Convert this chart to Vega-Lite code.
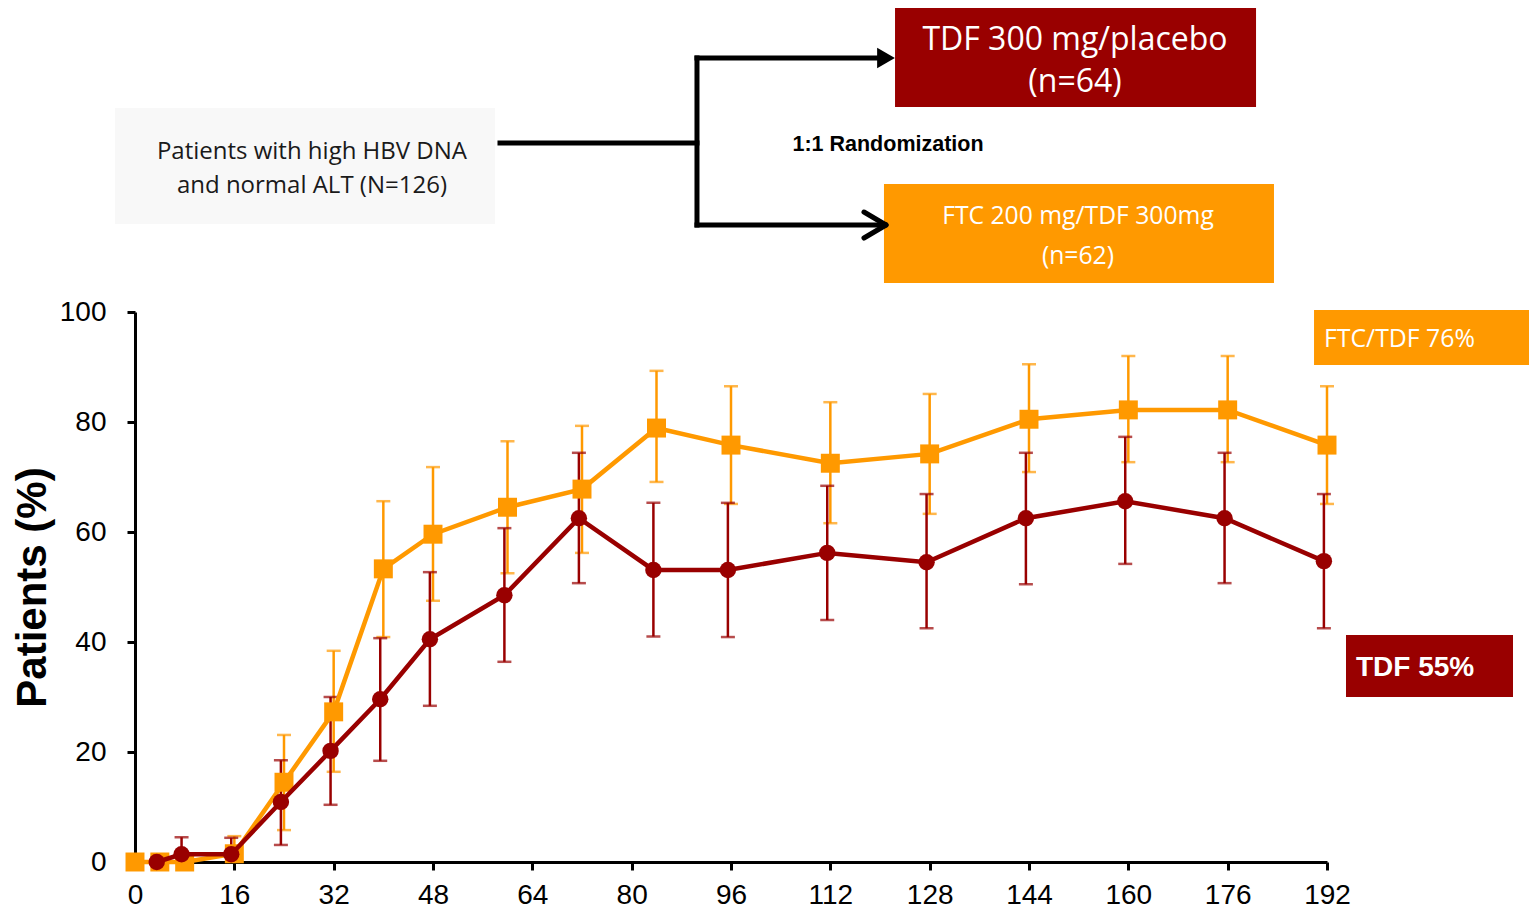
{
  "$schema": "https://vega.github.io/schema/vega-lite/v6.json",
  "width": 1192,
  "height": 550,
  "autosize": {"type": "none"},
  "padding": {"left": 135, "top": 312, "right": 205, "bottom": 47},
  "background": "white",
  "config": {"view": {"stroke": null}},
  "datasets": {
    "ftc": [
      {"week": 0, "pct": 0},
      {"week": 4, "pct": 0},
      {"week": 8, "pct": 0},
      {"week": 16, "pct": 1.5, "lo": 1.5, "hi": 4.7},
      {"week": 24, "pct": 14.5, "lo": 5.8, "hi": 23.1},
      {"week": 32, "pct": 27.3, "lo": 16.4, "hi": 38.4},
      {"week": 40, "pct": 53.3, "lo": 40.9, "hi": 65.6},
      {"week": 48, "pct": 59.6, "lo": 47.5, "hi": 71.8},
      {"week": 60, "pct": 64.5, "lo": 52.5, "hi": 76.5},
      {"week": 72, "pct": 67.8, "lo": 56.2, "hi": 79.3},
      {"week": 84, "pct": 78.9, "lo": 69.1, "hi": 89.3},
      {"week": 96, "pct": 75.8, "lo": 65.1, "hi": 86.5},
      {"week": 112, "pct": 72.5, "lo": 61.6, "hi": 83.6},
      {"week": 128, "pct": 74.2, "lo": 63.3, "hi": 85.1},
      {"week": 144, "pct": 80.5, "lo": 70.9, "hi": 90.5},
      {"week": 160, "pct": 82.2, "lo": 72.7, "hi": 92.0},
      {"week": 176, "pct": 82.2, "lo": 72.7, "hi": 92.0},
      {"week": 192, "pct": 75.8, "lo": 65.1, "hi": 86.5}
    ],
    "tdf": [
      {"week": 3.5, "pct": 0},
      {"week": 7.5, "pct": 1.4, "lo": 1.4, "hi": 4.5},
      {"week": 15.5, "pct": 1.4, "lo": 1.4, "hi": 4.4},
      {"week": 23.5, "pct": 10.9, "lo": 3.1, "hi": 18.5},
      {"week": 31.5, "pct": 20.2, "lo": 10.4, "hi": 30.0},
      {"week": 39.5, "pct": 29.6, "lo": 18.4, "hi": 40.7},
      {"week": 47.5, "pct": 40.5, "lo": 28.4, "hi": 52.7},
      {"week": 59.5, "pct": 48.5, "lo": 36.4, "hi": 60.7},
      {"week": 71.5, "pct": 62.5, "lo": 50.7, "hi": 74.4},
      {"week": 83.5, "pct": 53.1, "lo": 41.0, "hi": 65.3},
      {"week": 95.5, "pct": 53.1, "lo": 40.9, "hi": 65.3},
      {"week": 111.5, "pct": 56.2, "lo": 44.0, "hi": 68.4},
      {"week": 127.5, "pct": 54.5, "lo": 42.5, "hi": 66.9},
      {"week": 143.5, "pct": 62.5, "lo": 50.5, "hi": 74.4},
      {"week": 159.5, "pct": 65.6, "lo": 54.2, "hi": 77.3},
      {"week": 175.5, "pct": 62.5, "lo": 50.7, "hi": 74.4},
      {"week": 191.5, "pct": 54.7, "lo": 42.5, "hi": 66.9}
    ],
    "boxes": [
      {"box": "patients", "x1": -3.22, "x2": 57.99, "y1": 137.09, "y2": 116.0},
      {"box": "tdfarm", "x1": 122.42, "x2": 180.57, "y1": 155.27, "y2": 137.27},
      {"box": "ftcarm", "x1": 120.64, "x2": 183.46, "y1": 123.27, "y2": 105.27},
      {"box": "ftclabel", "x1": 189.91, "x2": 224.54, "y1": 100.36, "y2": 90.36},
      {"box": "tdflabel", "x1": 195.06, "x2": 221.96, "y1": 41.27, "y2": 30.0}
    ],
    "arrows": [
      {"x1": 58.79, "y1": 130.73, "x2": 90.52, "y2": 130.73},
      {"x1": 90.52, "y1": 146.18, "x2": 90.52, "y2": 115.82},
      {"x1": 90.52, "y1": 146.18, "x2": 119.8, "y2": 146.18},
      {"x1": 90.52, "y1": 115.82, "x2": 120.6, "y2": 115.82}
    ],
    "chevron": [
      {"x1": 117.42, "y1": 118.18, "x2": 120.97, "y2": 115.82},
      {"x1": 117.42, "y1": 113.45, "x2": 120.97, "y2": 115.82}
    ]
  },
  "layer": [
    {
      "data": {"name": "boxes"},
      "mark": {"type": "rect"},
      "encoding": {
        "x": {"field": "x1", "type": "quantitative", "title": null},
        "x2": {"field": "x2"},
        "y": {"field": "y1", "type": "quantitative", "title": "Patients (%)"},
        "y2": {"field": "y2"},
        "color": {
          "field": "box",
          "type": "nominal",
          "scale": {
            "domain": ["patients", "tdfarm", "ftcarm", "ftclabel", "tdflabel"],
            "range": ["#F8F8F8", "#990000", "#FF9900", "#FF9900", "#990000"]
          },
          "legend": null
        }
      }
    },
    {
      "data": {"name": "arrows"},
      "mark": {"type": "rule", "color": "black", "strokeWidth": 5, "strokeCap": "square"},
      "encoding": {
        "x": {"field": "x1", "type": "quantitative", "title": null},
        "x2": {"field": "x2"},
        "y": {"field": "y1", "type": "quantitative", "title": "Patients (%)"},
        "y2": {"field": "y2"}
      }
    },
    {
      "data": {"name": "chevron"},
      "mark": {"type": "rule", "color": "black", "strokeWidth": 5, "strokeCap": "round"},
      "encoding": {
        "x": {"field": "x1", "type": "quantitative", "title": null},
        "x2": {"field": "x2"},
        "y": {"field": "y1", "type": "quantitative", "title": "Patients (%)"},
        "y2": {"field": "y2"}
      }
    },
    {
      "data": {"values": [{"x": 120.97, "y": 146.18}]},
      "mark": {"type": "point", "shape": "triangle-right", "filled": true, "color": "black", "size": 420, "opacity": 1},
      "encoding": {
        "x": {"field": "x", "type": "quantitative", "title": null},
        "y": {"field": "y", "type": "quantitative", "title": "Patients (%)"}
      }
    },
    {
      "data": {"values": [
        {"x": 28.5, "y": 129.09, "t": "Patients with high HBV DNA"},
        {"x": 28.5, "y": 122.91, "t": "and normal ALT (N=126)"}
      ]},
      "mark": {"type": "text", "font": "Open Sans", "fontSize": 24, "color": "#1a1a1a", "align": "center", "baseline": "middle"},
      "encoding": {
        "x": {"field": "x", "type": "quantitative", "title": null},
        "y": {"field": "y", "type": "quantitative", "title": "Patients (%)"},
        "text": {"field": "t"}
      }
    },
    {
      "data": {"values": [{"x": 121.29, "y": 130.4, "t": "1:1 Randomization"}]},
      "mark": {"type": "text", "font": "Liberation Sans", "fontSize": 21.5, "fontWeight": "bold", "color": "black", "align": "center", "baseline": "middle"},
      "encoding": {
        "x": {"field": "x", "type": "quantitative", "title": null},
        "y": {"field": "y", "type": "quantitative", "title": "Patients (%)"},
        "text": {"field": "t"}
      }
    },
    {
      "data": {"values": [
        {"x": 151.41, "y": 149.45, "t": "TDF 300 mg/placebo"},
        {"x": 151.41, "y": 141.82, "t": "(n=64)"}
      ]},
      "mark": {"type": "text", "font": "Open Sans", "fontSize": 32, "color": "white", "align": "center", "baseline": "middle"},
      "encoding": {
        "x": {"field": "x", "type": "quantitative", "title": null},
        "y": {"field": "y", "type": "quantitative", "title": "Patients (%)"},
        "text": {"field": "t"}
      }
    },
    {
      "data": {"values": [
        {"x": 151.89, "y": 117.27, "t": "FTC 200 mg/TDF 300mg"},
        {"x": 151.89, "y": 110.0, "t": "(n=62)"}
      ]},
      "mark": {"type": "text", "font": "Open Sans", "fontSize": 24.7, "color": "white", "align": "center", "baseline": "middle"},
      "encoding": {
        "x": {"field": "x", "type": "quantitative", "title": null},
        "y": {"field": "y", "type": "quantitative", "title": "Patients (%)"},
        "text": {"field": "t"}
      }
    },
    {
      "data": {"values": [{"x": 191.52, "y": 94.9, "t": "FTC/TDF 76%"}]},
      "mark": {"type": "text", "font": "Open Sans", "fontSize": 24.8, "color": "white", "align": "left", "baseline": "middle"},
      "encoding": {
        "x": {"field": "x", "type": "quantitative", "title": null},
        "y": {"field": "y", "type": "quantitative", "title": "Patients (%)"},
        "text": {"field": "t"}
      }
    },
    {
      "data": {"values": [{"x": 196.67, "y": 35.3, "t": "TDF 55%"}]},
      "mark": {"type": "text", "font": "Liberation Sans", "fontSize": 28, "fontWeight": "bold", "color": "white", "align": "left", "baseline": "middle"},
      "encoding": {
        "x": {"field": "x", "type": "quantitative", "title": null},
        "y": {"field": "y", "type": "quantitative", "title": "Patients (%)"},
        "text": {"field": "t"}
      }
    },
    {
      "data": {"name": "ftc"},
      "transform": [{"filter": "datum.hi != null"}],
      "mark": {"type": "errorbar", "color": "#FF9900", "ticks": {"size": 14, "thickness": 2.5}, "rule": {"strokeWidth": 2.5}},
      "encoding": {
        "x": {"field": "week", "type": "quantitative", "title": null},
        "y": {"field": "lo", "type": "quantitative", "title": "Patients (%)"},
        "y2": {"field": "hi"}
      }
    },
    {
      "data": {"name": "tdf"},
      "transform": [{"filter": "datum.hi != null"}],
      "mark": {"type": "errorbar", "color": "#990000", "ticks": {"size": 14, "thickness": 2.5}, "rule": {"strokeWidth": 2.5}},
      "encoding": {
        "x": {"field": "week", "type": "quantitative", "title": null},
        "y": {"field": "lo", "type": "quantitative", "title": "Patients (%)"},
        "y2": {"field": "hi"}
      }
    },
    {
      "data": {"name": "ftc"},
      "mark": {"type": "line", "color": "#FF9900", "strokeWidth": 4.5, "point": {"shape": "square", "size": 360, "filled": true, "color": "#FF9900", "opacity": 1}},
      "encoding": {
        "x": {
          "field": "week", "type": "quantitative", "title": null,
          "scale": {"domain": [0, 192], "nice": false, "zero": false},
          "axis": {
            "values": [0, 16, 32, 48, 64, 80, 96, 112, 128, 144, 160, 176, 192],
            "title": null, "grid": false, "labelFlush": false, "labelOverlap": false,
            "domainColor": "black", "domainWidth": 3,
            "tickColor": "black", "tickWidth": 3, "tickSize": 8,
            "labelFont": "Liberation Sans", "labelFontSize": 28, "labelColor": "black", "labelPadding": 11
          }
        },
        "y": {
          "field": "pct", "type": "quantitative", "title": "Patients (%)",
          "scale": {"domain": [0, 100], "nice": false},
          "axis": {
            "values": [0, 20, 40, 60, 80, 100],
            "title": "Patients (%)", "grid": false, "labelFlush": false, "labelOverlap": false,
            "domainColor": "black", "domainWidth": 3,
            "tickColor": "black", "tickWidth": 3, "tickSize": 8,
            "labelFont": "Liberation Sans", "labelFontSize": 28, "labelColor": "black", "labelPadding": 21,
            "titleFont": "Liberation Sans", "titleFontSize": 42, "titleFontWeight": "bold", "titleColor": "black", "titlePadding": 5
          }
        }
      }
    },
    {
      "data": {"name": "tdf"},
      "mark": {"type": "line", "color": "#990000", "strokeWidth": 4.5, "point": {"shape": "circle", "size": 270, "filled": true, "color": "#990000", "opacity": 1}},
      "encoding": {
        "x": {"field": "week", "type": "quantitative", "title": null},
        "y": {"field": "pct", "type": "quantitative", "title": "Patients (%)"}
      }
    }
  ]
}
